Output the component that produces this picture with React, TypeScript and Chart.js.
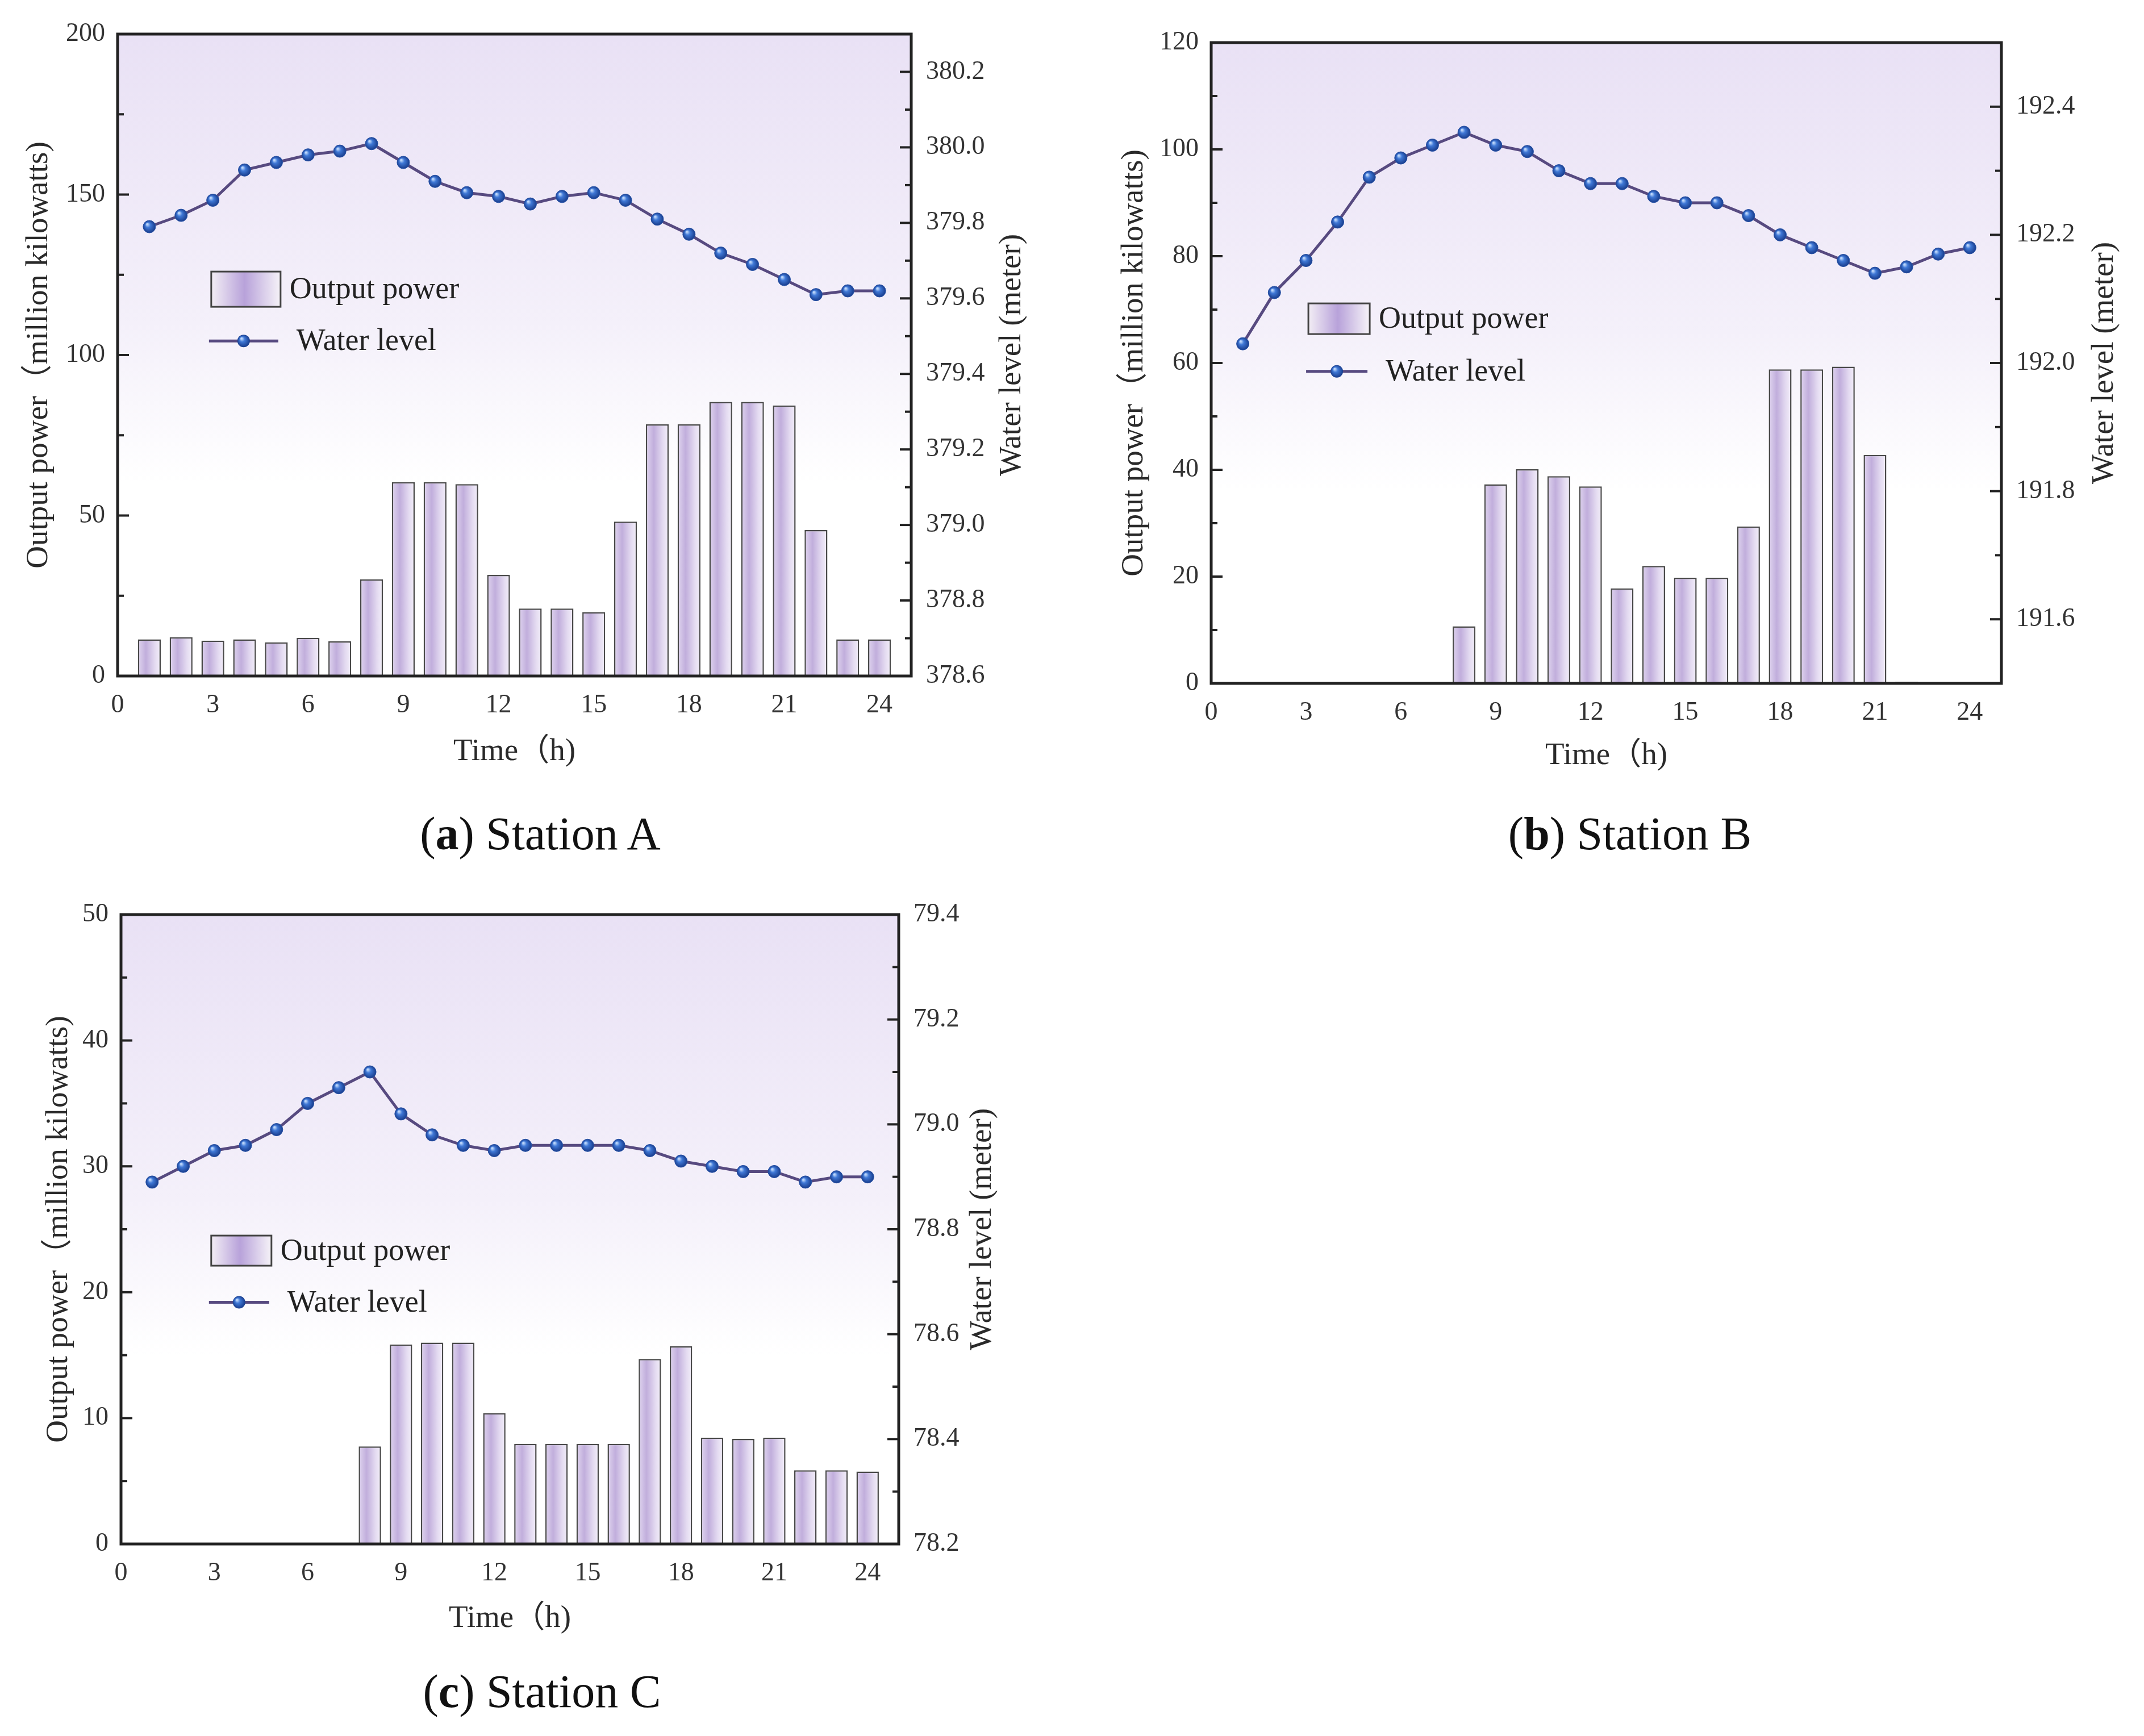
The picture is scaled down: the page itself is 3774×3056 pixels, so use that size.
import { useEffect, useRef } from "react"
import { Chart, registerables } from "chart.js"

Chart.register(...registerables)

// hours of the day and the shared x ticks
const hours = [1, 2, 3, 4, 5, 6, 7, 8, 9, 10, 11, 12, 13, 14, 15, 16, 17, 18, 19, 20, 21, 22, 23, 24]
const timeTicks = [0, 3, 6, 9, 12, 15, 18, 21, 24]

// Station A
const powerA = [11.4, 12.1, 11.0, 11.4, 10.5, 11.9, 10.8, 30.1, 60.4, 60.4, 59.8, 31.5, 21.0, 21.0, 19.9, 48.1, 78.4, 78.4, 85.4, 85.4, 84.3, 45.5, 11.4, 11.4]
const levelA = [379.79, 379.82, 379.86, 379.94, 379.96, 379.98, 379.99, 380.01, 379.96, 379.91, 379.88, 379.87, 379.85, 379.87, 379.88, 379.86, 379.81, 379.77, 379.72, 379.69, 379.65, 379.61, 379.62, 379.62]
const powerTicksA = [0, 50, 100, 150, 200]
const levelTicksA = [378.6, 378.8, 379.0, 379.2, 379.4, 379.6, 379.8, 380.0, 380.2]

// Station B
const powerB = [0, 0, 0, 0, 0, 0, 0, 10.7, 37.3, 40.1, 38.8, 36.9, 17.8, 22.0, 19.8, 19.8, 29.4, 58.8, 58.8, 59.3, 42.8, 0.3, 0, 0]
const levelB = [192.03, 192.11, 192.16, 192.22, 192.29, 192.32, 192.34, 192.36, 192.34, 192.33, 192.3, 192.28, 192.28, 192.26, 192.25, 192.25, 192.23, 192.2, 192.18, 192.16, 192.14, 192.15, 192.17, 192.18]
const powerTicksB = [0, 20, 40, 60, 80, 100, 120]
const levelTicksB = [191.6, 191.8, 192.0, 192.2, 192.4]

// Station C
const powerC = [0, 0, 0, 0, 0, 0, 0, 7.75, 15.85, 16.0, 16.0, 10.4, 7.95, 7.95, 7.95, 7.95, 14.7, 15.7, 8.45, 8.35, 8.45, 5.85, 5.85, 5.75]
const levelC = [78.89, 78.92, 78.95, 78.96, 78.99, 79.04, 79.07, 79.1, 79.02, 78.98, 78.96, 78.95, 78.96, 78.96, 78.96, 78.96, 78.95, 78.93, 78.92, 78.91, 78.91, 78.89, 78.9, 78.9]
const powerTicksC = [0, 10, 20, 30, 40, 50]
const levelTicksC = [78.2, 78.4, 78.6, 78.8, 79.0, 79.2, 79.4]

const SERIF = '"Liberation Serif", "Times New Roman", "Noto Sans CJK SC", serif'
const TICK_SIZE = 46
const TITLE_SIZE = 55
const LEGEND_SIZE = 54
const POINT_R = 11

const minorTicks = (ticks: number[], min: number, max: number) => {
  const step = ticks[1] - ticks[0]
  return [ticks[0] - step / 2, ...ticks.map((v) => v + step / 2)].filter(
    (v) => v >= min - 1e-6 && v <= max + 1e-6
  )
}

const barFill = (c: any) => {
  const xs = c.chart.scales?.x
  if (c.type !== "data" || !xs || !c.parsed) return "#cdbde2"
  const cx = xs.getPixelForValue(c.parsed.x)
  const half = (xs.getPixelForValue(1) - xs.getPixelForValue(0)) * 0.36
  if (!Number.isFinite(cx) || !Number.isFinite(half) || half <= 0) return "#cdbde2"
  const g = c.chart.ctx.createLinearGradient(cx - half, 0, cx + half, 0)
  g.addColorStop(0, "#e0d5ef")
  g.addColorStop(0.35, "#c1aedc")
  g.addColorStop(0.75, "#e4dbf1")
  g.addColorStop(1, "#f3eff9")
  return g
}

const sphere = (ctx: CanvasRenderingContext2D, x: number, y: number, r: number) => {
  if (!Number.isFinite(x) || !Number.isFinite(y)) return "#2f62c2"
  const g = ctx.createRadialGradient(x - r * 0.35, y - r * 0.4, r * 0.1, x, y, r)
  g.addColorStop(0, "#bcd6fa")
  g.addColorStop(0.35, "#3f78d6")
  g.addColorStop(1, "#183c8c")
  return g
}

const pointFill = (c: any) => {
  const { x, y1 } = c.chart.scales || {}
  if (c.type !== "data" || !x || !y1 || !c.parsed) return "#2f62c2"
  return sphere(c.chart.ctx, x.getPixelForValue(c.parsed.x), y1.getPixelForValue(c.parsed.y), POINT_R)
}

const framePlugin = {
  id: "frame",
  beforeDatasetsDraw(chart: any) {
    const { ctx, chartArea: a } = chart
    const g = ctx.createLinearGradient(0, a.top, 0, a.bottom)
    g.addColorStop(0, "#e9e1f5")
    g.addColorStop(0.45, "#f4f0fa")
    g.addColorStop(0.7, "#ffffff")
    g.addColorStop(1, "#ffffff")
    ctx.save()
    ctx.fillStyle = g
    ctx.fillRect(a.left, a.top, a.right - a.left, a.bottom - a.top)
    ctx.restore()
  },
  afterDatasetsDraw(chart: any, _args: any, o: any) {
    const { ctx, chartArea: a, scales } = chart
    ctx.save()
    // inward ticks on both value axes
    ctx.strokeStyle = "#222"
    ctx.lineWidth = 4
    const tick = (scale: any, values: number[], len: number, side: "l" | "r") => {
      values.forEach((v) => {
        const y = scale.getPixelForValue(v)
        ctx.beginPath()
        if (side === "l") {
          ctx.moveTo(a.left, y)
          ctx.lineTo(a.left + len, y)
        } else {
          ctx.moveTo(a.right, y)
          ctx.lineTo(a.right - len, y)
        }
        ctx.stroke()
      })
    }
    tick(scales.y, o.leftTicks, 20, "l")
    tick(scales.y, minorTicks(o.leftTicks, scales.y.min, scales.y.max), 11, "l")
    tick(scales.y1, o.rightTicks, 20, "r")
    tick(scales.y1, minorTicks(o.rightTicks, scales.y1.min, scales.y1.max), 11, "r")

    // frame
    ctx.lineWidth = 5
    ctx.strokeRect(a.left, a.top, a.right - a.left, a.bottom - a.top)

    // legend
    const w = a.right - a.left
    const h = a.bottom - a.top
    const sx = a.left + o.legend.x * w
    const sy = a.top + o.legend.y * h
    const sg = ctx.createLinearGradient(sx, 0, sx + o.legend.w, 0)
    sg.addColorStop(0, "#f3eef5")
    sg.addColorStop(0.48, "#b8a2da")
    sg.addColorStop(1, "#f6f3f8")
    ctx.fillStyle = sg
    ctx.fillRect(sx, sy, o.legend.w, o.legend.h)
    ctx.lineWidth = 3
    ctx.strokeStyle = "#444"
    ctx.strokeRect(sx, sy, o.legend.w, o.legend.h)

    ctx.fillStyle = "#222"
    ctx.font = `${LEGEND_SIZE}px ${SERIF}`
    ctx.textAlign = "left"
    ctx.textBaseline = "middle"
    ctx.fillText("Output power", sx + o.legend.w + 16, sy + o.legend.h / 2 + 2)

    const ly = a.top + o.legend.lineY * h
    ctx.strokeStyle = "#574a80"
    ctx.lineWidth = 5
    ctx.beginPath()
    ctx.moveTo(sx - 4, ly)
    ctx.lineTo(sx + o.legend.w - 4, ly)
    ctx.stroke()
    const mx = sx + o.legend.w / 2 - 4
    ctx.fillStyle = sphere(ctx, mx, ly, POINT_R)
    ctx.beginPath()
    ctx.arc(mx, ly, POINT_R, 0, Math.PI * 2)
    ctx.fill()
    ctx.fillStyle = "#222"
    ctx.fillText("Water level", sx + o.legend.w + 28, ly + 2)

    // right axis title, reading bottom to top
    ctx.translate(a.right + o.rightTitleOffset, (a.top + a.bottom) / 2)
    ctx.rotate(-Math.PI / 2)
    ctx.textAlign = "center"
    ctx.font = `${TITLE_SIZE}px ${SERIF}`
    ctx.fillStyle = "#2a2a2a"
    ctx.fillText("Water level (meter)", 0, 0)
    ctx.restore()
  },
}

type Layout = {
  box: { left: number; top: number; width: number; height: number }
  plot: { l: number; t: number; r: number; b: number }
  leftTitlePad: number
  bottomTitlePad: number
  rightTitleOffset: number
  legend: { x: number; y: number; lineY: number; w: number; h: number }
}

type StationProps = {
  power: number[]
  level: number[]
  powerTicks: number[]
  levelTicks: number[]
  levelMin: number
  levelMax: number
  layout: Layout
}

function StationChart({ power, level, powerTicks, levelTicks, levelMin, levelMax, layout }: StationProps) {
  const ref = useRef<HTMLCanvasElement>(null)

  useEffect(() => {
    if (!ref.current) return
    const { box, plot } = layout
    const leftW = plot.l - box.left
    const rightW = box.left + box.width - plot.r
    const bottomH = box.top + box.height - plot.b
    const topPad = plot.t - box.top
    const tickFont = { family: SERIF, size: TICK_SIZE }
    const titleFont = { family: SERIF, size: TITLE_SIZE }

    const chart = new Chart(ref.current, {
      type: "bar",
      data: {
        datasets: [
          {
            type: "line",
            label: "Water level",
            data: hours.map((h, i) => ({ x: h, y: level[i] })),
            yAxisID: "y1",
            borderColor: "#574a80",
            borderWidth: 5,
            pointRadius: POINT_R,
            pointBorderWidth: 1,
            pointBorderColor: "#2a55a8",
            pointBackgroundColor: pointFill,
            order: 0,
          },
          {
            type: "bar",
            label: "Output power",
            data: hours.map((h, i) => ({ x: h, y: power[i] })),
            yAxisID: "y",
            backgroundColor: barFill,
            borderColor: "#4a4a4a",
            borderWidth: 2.5,
            barPercentage: 0.9,
            categoryPercentage: 0.8,
            order: 1,
          },
        ],
      } as any,
      options: {
        responsive: false,
        animation: false,
        events: [],
        layout: { padding: { top: topPad, left: 0, right: 0, bottom: 0 } },
        plugins: {
          legend: { display: false },
          tooltip: { enabled: false },
          frame: {
            leftTicks: powerTicks,
            rightTicks: levelTicks,
            legend: layout.legend,
            rightTitleOffset: layout.rightTitleOffset,
          },
        } as any,
        scales: {
          x: {
            type: "linear",
            offset: false,
            min: 0,
            max: 25,
            afterBuildTicks: (s: any) => {
              s.ticks = timeTicks.map((value) => ({ value }))
            },
            afterFit: (s: any) => {
              s.height = bottomH
            },
            grid: { display: false, drawTicks: false, offset: false },
            border: { display: false },
            ticks: { font: tickFont, color: "#333", padding: 24, maxRotation: 0, autoSkip: false },
            title: {
              display: true,
              text: "Time（h)",
              font: titleFont,
              color: "#2a2a2a",
              padding: { top: 0, bottom: layout.bottomTitlePad },
            },
          },
          y: {
            type: "linear",
            position: "left",
            min: powerTicks[0],
            max: powerTicks[powerTicks.length - 1],
            afterBuildTicks: (s: any) => {
              s.ticks = powerTicks.map((value) => ({ value }))
            },
            afterFit: (s: any) => {
              s.width = leftW
            },
            grid: { display: false, drawTicks: false },
            border: { display: false },
            ticks: { font: tickFont, color: "#333", padding: 22 },
            title: {
              display: true,
              text: "Output power（million kilowatts)",
              font: titleFont,
              color: "#2a2a2a",
              padding: { top: layout.leftTitlePad, bottom: 0 },
            },
          },
          y1: {
            type: "linear",
            position: "right",
            min: levelMin,
            max: levelMax,
            afterBuildTicks: (s: any) => {
              s.ticks = levelTicks.map((value) => ({ value }))
            },
            afterFit: (s: any) => {
              s.width = rightW
            },
            grid: { display: false, drawTicks: false },
            border: { display: false },
            ticks: {
              font: tickFont,
              color: "#333",
              padding: 26,
              callback: (v: any) => Number(v).toFixed(1),
            },
          },
        },
      },
      plugins: [framePlugin],
    })

    return () => chart.destroy()
  }, [power, level, powerTicks, levelTicks, levelMin, levelMax, layout])

  const { box } = layout
  return (
    <div style={{ position: "absolute", left: box.left, top: box.top, width: box.width, height: box.height }}>
      <canvas ref={ref} width={box.width} height={box.height} style={{ display: "block" }} />
    </div>
  )
}

const layoutA: Layout = {
  box: { left: 0, top: 0, width: 1850, height: 1400 },
  plot: { l: 207, t: 60, r: 1604, b: 1190 },
  leftTitlePad: 36,
  bottomTitlePad: 43,
  rightTitleOffset: 178,
  legend: { x: 0.118, y: 0.37, lineY: 0.478, w: 122, h: 62 },
}

const layoutB: Layout = {
  box: { left: 1920, top: 0, width: 1854, height: 1400 },
  plot: { l: 2132, t: 75, r: 3523, b: 1203 },
  leftTitlePad: 44,
  bottomTitlePad: 36,
  rightTitleOffset: 182,
  legend: { x: 0.123, y: 0.407, lineY: 0.513, w: 108, h: 54 },
}

const layoutC: Layout = {
  box: { left: 0, top: 1450, width: 1850, height: 1450 },
  plot: { l: 213, t: 1610, r: 1582, b: 2718 },
  leftTitlePad: 71,
  bottomTitlePad: 17,
  rightTitleOffset: 148,
  legend: { x: 0.116, y: 0.51, lineY: 0.616, w: 106, h: 53 },
}

function Caption({ x, y, letter, name }: { x: number; y: number; letter: string; name: string }) {
  return (
    <div
      style={{
        position: "absolute",
        left: x,
        top: y,
        transform: "translate(-50%, -50%)",
        whiteSpace: "nowrap",
        fontFamily: SERIF,
        fontSize: 82,
        color: "#111",
      }}
    >
      (<b>{letter}</b>) {name}
    </div>
  )
}

export default function App() {
  return (
    <div style={{ position: "absolute", left: 0, top: 0, width: 3774, height: 3056, background: "#fff", overflow: "hidden" }}>
      <StationChart
        power={powerA}
        level={levelA}
        powerTicks={powerTicksA}
        levelTicks={levelTicksA}
        levelMin={378.6}
        levelMax={380.3}
        layout={layoutA}
      />
      <StationChart
        power={powerB}
        level={levelB}
        powerTicks={powerTicksB}
        levelTicks={levelTicksB}
        levelMin={191.5}
        levelMax={192.5}
        layout={layoutB}
      />
      <StationChart
        power={powerC}
        level={levelC}
        powerTicks={powerTicksC}
        levelTicks={levelTicksC}
        levelMin={78.2}
        levelMax={79.4}
        layout={layoutC}
      />
      <Caption x={951} y={1468} letter="a" name="Station A" />
      <Caption x={2869} y={1468} letter="b" name="Station B" />
      <Caption x={954} y={2978} letter="c" name="Station C" />
    </div>
  )
}
